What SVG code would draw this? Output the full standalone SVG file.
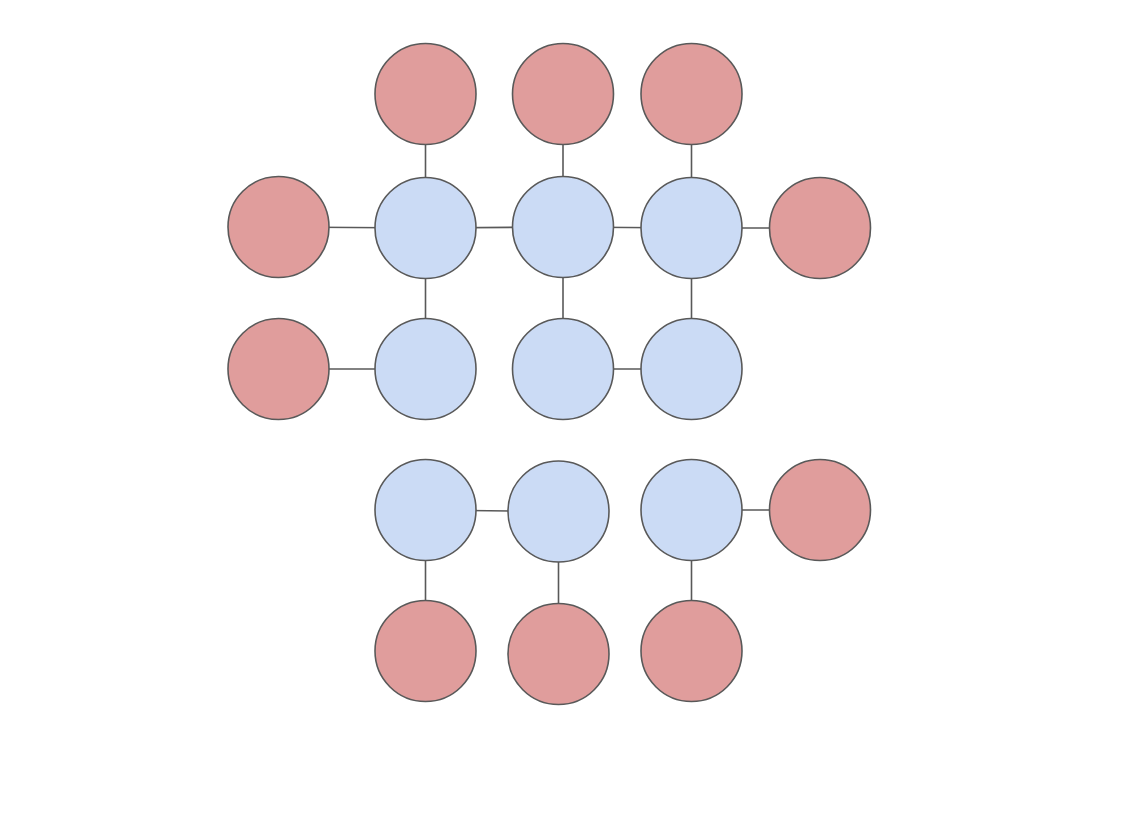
<svg xmlns="http://www.w3.org/2000/svg" width="1142" height="826" viewBox="0 0 1142 826">
<style>
.n circle{stroke:#595959;stroke-width:1.6}
.r circle{fill:#e09d9c}
.b circle{fill:#cbdbf5}
#edges line{stroke:#595959;stroke-width:1.6}
</style>
<rect width="1142" height="826" fill="#ffffff"/>
<g id="edges">
<line x1="425.5" y1="94" x2="425.5" y2="228"/>
<line x1="563" y1="94" x2="563" y2="227"/>
<line x1="691.5" y1="94" x2="691.5" y2="228"/>
<line x1="278.5" y1="227" x2="425.5" y2="228"/>
<line x1="425.5" y1="228" x2="563" y2="227"/>
<line x1="563" y1="227" x2="691.5" y2="228"/>
<line x1="691.5" y1="228" x2="820" y2="228"/>
<line x1="425.5" y1="228" x2="425.5" y2="369"/>
<line x1="563" y1="227" x2="563" y2="369"/>
<line x1="691.5" y1="228" x2="691.5" y2="369"/>
<line x1="278.5" y1="369" x2="425.5" y2="369"/>
<line x1="563" y1="369" x2="691.5" y2="369"/>
<line x1="425.5" y1="510" x2="558.5" y2="511.5"/>
<line x1="691.5" y1="510" x2="820" y2="510"/>
<line x1="425.5" y1="510" x2="425.5" y2="651"/>
<line x1="558.5" y1="511.5" x2="558.5" y2="654"/>
<line x1="691.5" y1="510" x2="691.5" y2="651"/>
</g>
<g id="n1" class="n r"><circle cx="425.5" cy="94" r="50.5"/></g>
<g id="n2" class="n r"><circle cx="563" cy="94" r="50.5"/></g>
<g id="n3" class="n r"><circle cx="691.5" cy="94" r="50.5"/></g>
<g id="n4" class="n r"><circle cx="278.5" cy="227" r="50.5"/></g>
<g id="n5" class="n b"><circle cx="425.5" cy="228" r="50.5"/></g>
<g id="n6" class="n b"><circle cx="563" cy="227" r="50.5"/></g>
<g id="n7" class="n b"><circle cx="691.5" cy="228" r="50.5"/></g>
<g id="n8" class="n r"><circle cx="820" cy="228" r="50.5"/></g>
<g id="n9" class="n r"><circle cx="278.5" cy="369" r="50.5"/></g>
<g id="n10" class="n b"><circle cx="425.5" cy="369" r="50.5"/></g>
<g id="n11" class="n b"><circle cx="563" cy="369" r="50.5"/></g>
<g id="n12" class="n b"><circle cx="691.5" cy="369" r="50.5"/></g>
<g id="n13" class="n b"><circle cx="425.5" cy="510" r="50.5"/></g>
<g id="n14" class="n b"><circle cx="558.5" cy="511.5" r="50.5"/></g>
<g id="n15" class="n b"><circle cx="691.5" cy="510" r="50.5"/></g>
<g id="n16" class="n r"><circle cx="820" cy="510" r="50.5"/></g>
<g id="n17" class="n r"><circle cx="425.5" cy="651" r="50.5"/></g>
<g id="n18" class="n r"><circle cx="558.5" cy="654" r="50.5"/></g>
<g id="n19" class="n r"><circle cx="691.5" cy="651" r="50.5"/></g>
</svg>
